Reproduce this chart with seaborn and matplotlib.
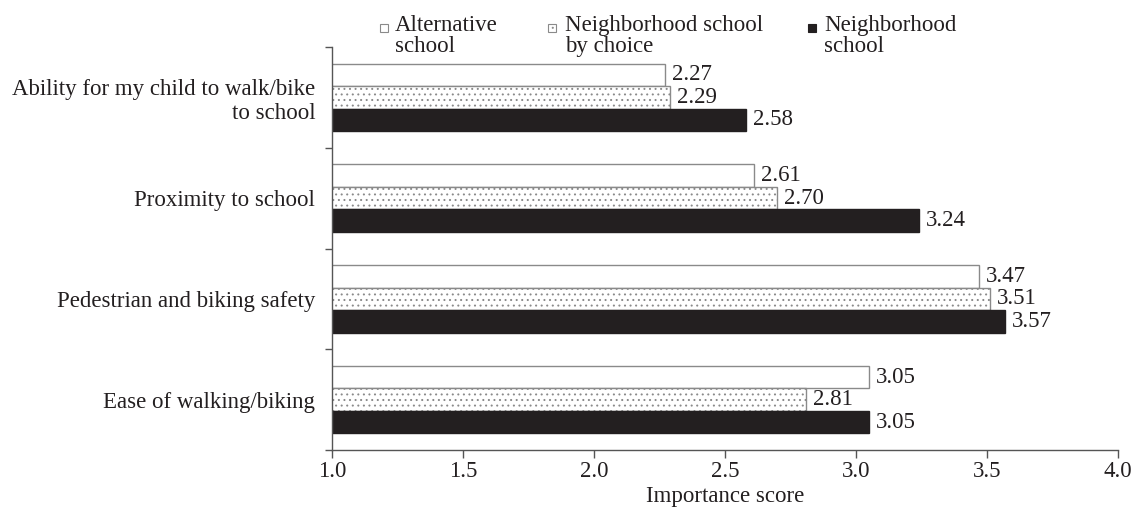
import matplotlib
matplotlib.use("Agg")
import matplotlib.pyplot as plt
import seaborn as sns
import pandas as pd
from matplotlib.patches import Rectangle

categories = ["Ability for my child to walk/bike\nto school", "Proximity to school",
              "Pedestrian and biking safety", "Ease of walking/biking"]
groups = ["Alternative school", "Neighborhood school by choice", "Neighborhood school"]
legend_labels = ["Alternative\nschool", "Neighborhood school\nby choice", "Neighborhood\nschool"]
alternative = [2.27, 2.61, 3.47, 3.05]
by_choice = [2.29, 2.70, 3.51, 2.81]
neighborhood = [2.58, 3.24, 3.57, 3.05]
xticks = [1.0, 1.5, 2.0, 2.5, 3.0, 3.5, 4.0]

rows = []
for g, vals in zip(groups, [alternative, by_choice, neighborhood]):
    for c, v in zip(categories, vals):
        rows.append({"category": c, "group": g, "score": v})
df = pd.DataFrame(rows)

sns.set_theme(style="white")
plt.rcParams["font.family"] = ["Liberation Serif", "DejaVu Serif"]
plt.rcParams["hatch.color"] = "#a8a8a8"
plt.rcParams["hatch.linewidth"] = 0.7

FS = 16.5
TXT = "#231f20"
fills = ["white", "white", "#231f20"]
edges = ["#8a8a8a", "#8a8a8a", "#231f20"]
hatches = [None, "...", None]

fig = plt.figure(figsize=(11.31, 5.08), dpi=100)
ax = fig.add_axes([332/1131, 1-450/508, (1118-332)/1131, (450-47)/508])

sns.barplot(data=df, y="category", x="score", hue="group", order=categories,
            hue_order=groups, orient="h", width=0.67, palette=fills,
            legend=False, ax=ax, saturation=1)

for i, cont in enumerate(ax.containers):
    for p in cont:
        p.set_facecolor(fills[i])
        p.set_edgecolor(edges[i])
        p.set_linewidth(1.0)
        if hatches[i]:
            p.set_hatch(hatches[i])
    ax.bar_label(cont, labels=[f"{v:.2f}" for v in cont.datavalues], padding=5,
                 fontsize=FS, color=TXT)

ax.set_xlim(1.0, 4.0)
ax.set_ylim(3.5, -0.5)
ax.set_xticks(xticks)
ax.set_xticklabels([f"{t:.1f}" for t in xticks], fontsize=FS, color=TXT)
ax.set_yticks(range(len(categories)))
ax.set_yticklabels(categories, fontsize=FS, color=TXT, ha="right", multialignment="right")
ax.set_yticks([-0.5, 0.5, 1.5, 2.5, 3.5], minor=True)
ax.tick_params(axis="y", which="major", length=0, pad=12)
ax.tick_params(axis="y", which="minor", left=True, length=5, width=1, color="#555555", direction="out")
ax.tick_params(axis="x", which="major", bottom=True, length=6, width=1, color="#555555", direction="out", pad=2)
ax.set_xlabel("Importance score", fontsize=FS, color=TXT, labelpad=3)
ax.set_ylabel("")
for s in ["top", "right"]:
    ax.spines[s].set_visible(False)
for s in ["left", "bottom"]:
    ax.spines[s].set_color("#555555")
    ax.spines[s].set_linewidth(1.0)

# legend
marker_x = [384, 552, 812]
text_x = [395, 565, 824]
for i in range(3):
    fig.patches.append(Rectangle(((marker_x[i]-4)/1131, 1-32/508), 8/1131, 8/508,
                                 transform=fig.transFigure, facecolor=fills[i],
                                 edgecolor=edges[i], hatch=hatches[i], linewidth=0.8))
    fig.text(text_x[i]/1131, 1-15/508, legend_labels[i], fontsize=FS, color=TXT,
             ha="left", va="top", linespacing=1.0)

fig.savefig("out.png", dpi=100)
